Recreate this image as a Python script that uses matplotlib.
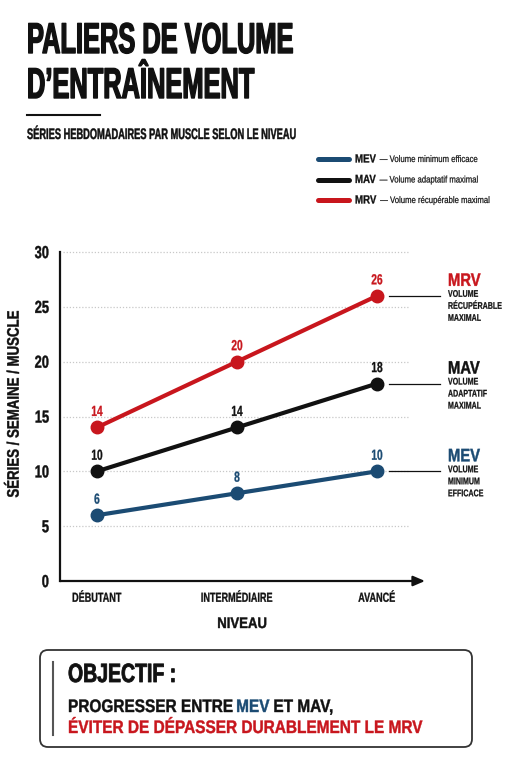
import matplotlib
matplotlib.use("Agg")
import matplotlib.pyplot as plt
from matplotlib import font_manager
from matplotlib.patches import FancyBboxPatch
from matplotlib.patheffects import AbstractPathEffect
from matplotlib.transforms import Affine2D

# Donnees du graphique
niveaux = ["DÉBUTANT", "INTERMÉDIAIRE", "AVANCÉ"]
mev = [6, 8, 10]
mav = [10, 14, 18]
mrv = [14, 20, 26]
y_ticks = [0, 5, 10, 15, 20, 25, 30]
noms = ["MEV", "MAV", "MRV"]
legendes = ["Volume minimum efficace",
            "Volume adaptatif maximal",
            "Volume récupérable maximal"]
descriptions = ["VOLUME\nMINIMUM\nEFFICACE",
                "VOLUME\nADAPTATIF\nMAXIMAL",
                "VOLUME\nRÉCUPÉRABLE\nMAXIMAL"]

BLUE = "#1b4b73"
BLACK = "#111111"
RED = "#c8161d"
GRID = "#c8c8c8"
couleurs = [BLUE, BLACK, RED]

# Police etroite si disponible
try:
    font_manager.findfont("Liberation Sans Narrow", fallback_to_default=False)
    FONT = "Liberation Sans Narrow"
    K = 1.0
except ValueError:
    FONT = "Liberation Sans"
    K = 0.82

CAP = 68.8  # hauteur des capitales en unites de chemin


class Etire(AbstractPathEffect):
    """Etire verticalement le texte (aspect condense), option graisse."""

    def __init__(self, sy, va="baseline", gras=0):
        super().__init__()
        self.sy = sy
        self.b = {"baseline": 0, "bottom": 0, "center": CAP / 2,
                  "center_baseline": CAP / 2, "top": CAP}[va]
        self.gras = gras

    def draw_path(self, renderer, gc, tpath, affine, rgbFace=None):
        tr = Affine2D().translate(0, -self.b).scale(1, self.sy).translate(0, self.b) + affine
        if self.gras:
            gc0 = renderer.new_gc()
            gc0.copy_properties(gc)
            gc0.set_linewidth(self.gras)
            gc0.set_foreground(rgbFace)
            renderer.draw_path(gc0, tpath, tr, rgbFace)
            gc0.restore()
        else:
            renderer.draw_path(gc, tpath, tr, rgbFace)


def serre(t, size, sx, gras=0):
    # taille reduite en largeur, hauteur retablie par l'etirement
    s = sx * K
    t.set_fontsize(size * s)
    t.set_family(FONT)
    t.set_path_effects([Etire(1 / s, t.get_va(), gras)])
    return t


fig = plt.figure(figsize=(5.11, 7.68), dpi=100)
# Calque en pixels pour les textes hors graphique
ov = fig.add_axes([0, 0, 1, 1])
ov.set_xlim(0, 511)
ov.set_ylim(768, 0)
ov.axis("off")


def texte(x, y, s, size, sx, color=BLACK, ha="left", va="baseline",
          weight="bold", gras=0, **kw):
    t = ov.text(x, y, s, color=color, ha=ha, va=va, fontweight=weight, **kw)
    return serre(t, size, sx, gras)


# Titre
texte(27, 53, "PALIERS DE VOLUME", 31, 0.72, gras=1.0)
texte(27, 98, "D’ENTRAÎNEMENT", 31, 0.72, gras=1.0)
ov.plot([27, 100], [115, 115], color=BLACK, lw=1.5)
texte(27, 139, "SÉRIES HEBDOMADAIRES PAR MUSCLE SELON LE NIVEAU", 11, 0.74,
      gras=0.3)

# Legende
renderer = fig.canvas.get_renderer()
for i, (nom, leg, col) in enumerate(zip(noms, legendes, couleurs)):
    y = 159 + 20.5 * i
    ov.plot([318, 349], [y, y], color=col, lw=3.6, solid_capstyle="round")
    t = texte(355, y + 3.5, nom, 8.5, 1.0, gras=0.2)
    w = t.get_window_extent(renderer).width
    texte(355 + w + 4, y + 3, "— " + leg, 6.8, 1.0, weight="normal", gras=0.15)

# Graphique
ax = fig.add_axes([60 / 511, 187 / 768, 365 / 511, 329 / 768])
x = list(range(len(niveaux)))
x_min, x_max = -0.264, 2.343
ax.set_xlim(x_min, x_max)
ax.set_ylim(y_ticks[0], y_ticks[-1])
ax.patch.set_alpha(0)

for yv in y_ticks[1:]:
    ax.plot([x_min + 0.02, x[-1] + 0.22], [yv, yv], color=GRID, lw=0.9,
            ls=(0, (1, 1.5)), zorder=1, clip_on=False)

for side in ["top", "right", "bottom"]:
    ax.spines[side].set_visible(False)
ax.spines["left"].set_linewidth(1.6)
ax.spines["left"].set_color(BLACK)
ax.annotate("", xy=(x_max, 0), xytext=(x_min, 0), annotation_clip=False,
            arrowprops=dict(arrowstyle="-|>,head_length=0.7,head_width=0.3",
                            lw=1.6, color=BLACK, shrinkA=0, shrinkB=0))

ax.set_yticks(y_ticks, [str(v) for v in y_ticks])
ax.set_xticks(x, niveaux)
ax.tick_params(axis="y", length=0, pad=8, labelcolor=BLACK)
ax.tick_params(axis="x", length=0, pad=15, labelcolor=BLACK)
for lab in ax.get_yticklabels():
    lab.set_fontweight("bold")
    serre(lab, 12.5, 0.9, gras=0.3)
for lab in ax.get_xticklabels():
    lab.set_fontweight("bold")
    lab.set_va("baseline")
    serre(lab, 9.5, 0.84, gras=0.2)

for nom, vals, col, desc in zip(noms, [mev, mav, mrv], couleurs, descriptions):
    ax.plot(x, vals, color=col, lw=3, marker="o", ms=9,
            solid_capstyle="round", zorder=3, clip_on=False)
    for xi, v in zip(x, vals):
        t = ax.annotate(str(v), (xi, v), xytext=(0, 8.3), textcoords="offset points",
                        ha="center", va="baseline", color=col, fontweight="bold")
        serre(t, 10.5, 0.85, gras=0.2)
    # Repere a droite
    xl = x[-1]
    ax.plot([xl + 0.086, xl + 0.45], [vals[-1], vals[-1]], color=BLACK,
            lw=0.9, clip_on=False)
    t = ax.annotate(nom, (xl + 0.507, vals[-1]), xytext=(0, 7.2),
                    textcoords="offset points", ha="left", va="baseline",
                    color=col, fontweight="bold", annotation_clip=False)
    serre(t, 13, 1.0, gras=0.3)
    for j, ligne in enumerate(desc.split("\n")):
        t = ax.annotate(ligne, (xl + 0.507, vals[-1]), xytext=(0, -0.7 - 8.64 * j),
                        textcoords="offset points", ha="left", va="baseline",
                        color=BLACK, fontweight="bold", annotation_clip=False)
        serre(t, 7, 0.89, gras=0.15)

# Titres des axes
texte(14.5, 404.5, "SÉRIES / SEMAINE / MUSCLE", 12, 0.97, ha="center",
      va="center", rotation=90, gras=0.3)
texte(242, 628, "NIVEAU", 11, 1.05, ha="center", gras=0.3)

# Encadre objectif
box = FancyBboxPatch((40, 650), 432, 97, boxstyle="round,pad=0,rounding_size=8",
                     fc="white", ec="#333333", lw=1.3)
ov.add_patch(box)
ov.plot([53, 53], [662, 735], color="#555555", lw=1.5)
texte(68, 682, "OBJECTIF :", 19, 0.9, gras=0.6)

size, sx = 13, 1.04
gap = 0.26 * size * 100 / 72 * sx * K
xpos = 68
for mot, col in [("PROGRESSER ENTRE", BLACK), ("MEV", BLUE), ("ET MAV,", BLACK)]:
    t = texte(xpos, 712, mot, size, sx, color=col, gras=0.3)
    xpos += t.get_window_extent(renderer).width + gap
texte(68, 733, "ÉVITER DE DÉPASSER DURABLEMENT LE MRV", size, sx, color=RED,
      gras=0.3)

fig.savefig("out.png", dpi=100, facecolor="white")
